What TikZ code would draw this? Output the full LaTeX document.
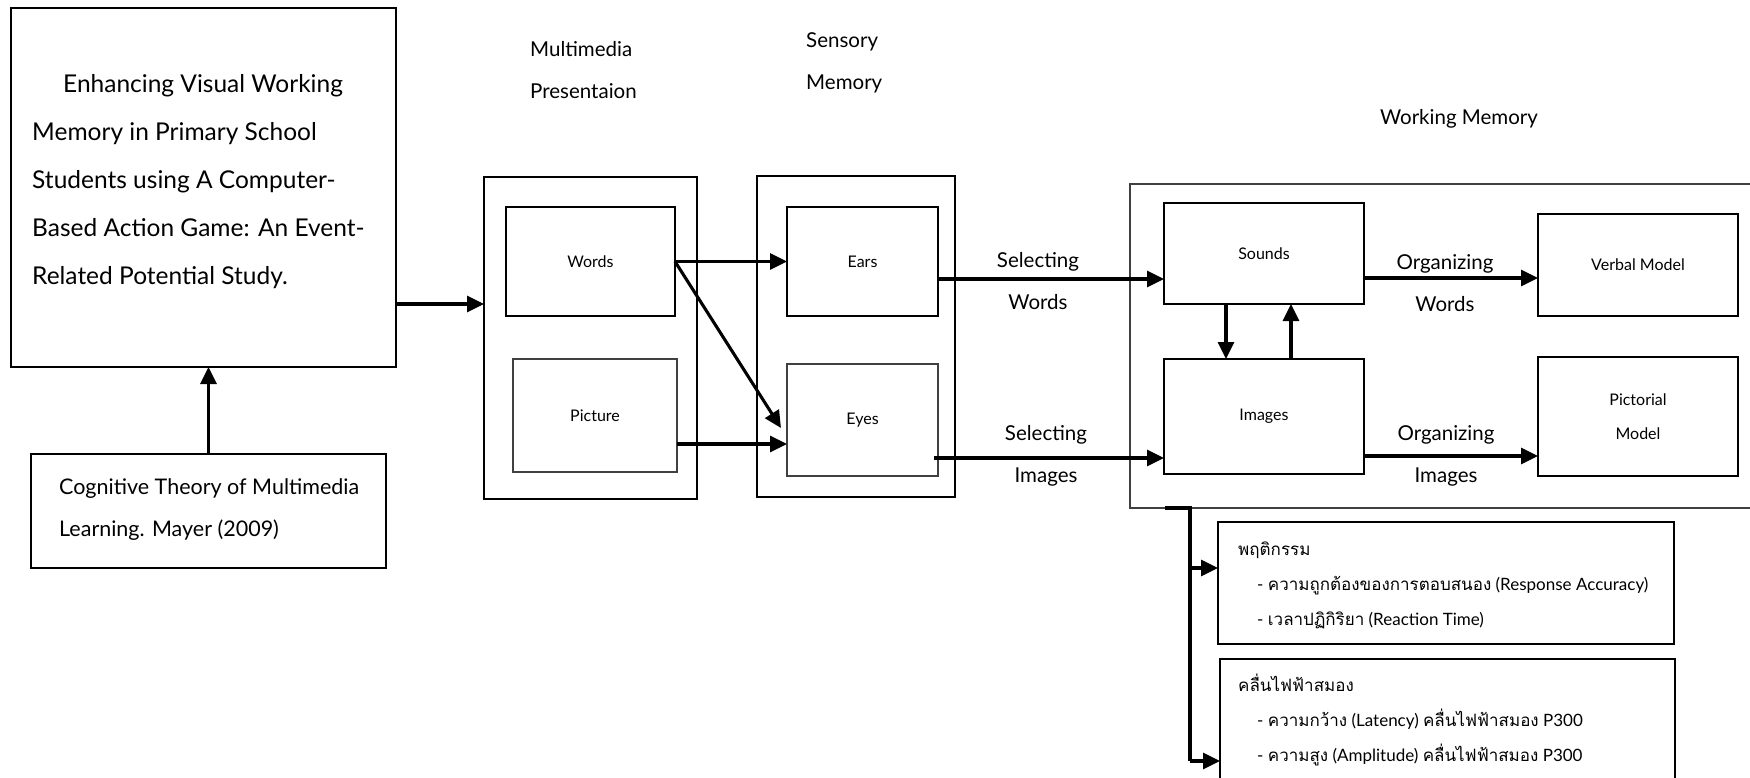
\documentclass[tikz,border=0pt]{standalone}
\usepackage{fontspec}
\setmainfont{Lato}
\newfontfamily\thaifont[Script=Thai]{Loma}
\usetikzlibrary{arrows.meta,calc}
\begin{document}
\begin{tikzpicture}[x=1pt,y=-1pt,
  box/.style={draw, rectangle, inner sep=0pt, outer sep=0pt},
  outerbox/.style={box, line width=2.8pt},
  innerbox/.style={box, line width=2pt},
  thinbox/.style={box, line width=1.4pt, draw=black!75},
  arr/.style={line width=3.1pt, -{Triangle[length=17pt,width=16pt]}},
  plain/.style={line width=3.1pt},
  lbl/.style={inner sep=0pt, align=left, font=\fontsize{20.5}{42}\selectfont},
  small/.style={font=\fontsize{16}{34}\selectfont, align=center},
  thai/.style={inner sep=0pt, align=left, font=\fontsize{17}{35}\selectfont}]
\clip (0,0) rectangle (1750,778);
\fill[white] (0,0) rectangle (1750,778);

% left column
\node[outerbox, minimum width=385pt, minimum height=359pt] (title) at (203.5,187.5) {};
\node[anchor=north west, inner sep=0pt, align=left, font=\fontsize{24.5}{48}\selectfont] (titletext) at (32,74)
  {\hspace*{31pt}Enhancing Visual Working\\Memory in Primary School\\Students using A Computer-\\Based Action Game: An Event-\\Related Potential Study.};
\node[outerbox, minimum width=355pt, minimum height=114pt] (cog) at (208.5,511) {};
\node[anchor=north west, inner sep=0pt, align=left, font=\fontsize{21.5}{42}\selectfont] (cogtext) at (59,478) {Cognitive Theory of Multimedia\\Learning. Mayer (2009)};

% headings
\node[anchor=north west, lbl] (mmlabel) at (530,41) {Multimedia\\Presentaion};
\node[anchor=north west, lbl] (smlabel) at (806,32) {Sensory\\Memory};
\node[lbl] (wmlabel) at (1459,119) {Working Memory};

% multimedia presentation
\node[outerbox, minimum width=213pt, minimum height=322pt] (mm) at (590.5,338) {};
\node[innerbox, minimum width=169pt, minimum height=109pt, small] (words) at (590.5,261.5) {Words};
\node[thinbox, minimum width=164pt, minimum height=113pt, small] (pic) at (595,415.5) {Picture};

% sensory memory
\node[outerbox, minimum width=198pt, minimum height=321pt] (sm) at (856,336.5) {};
\node[innerbox, minimum width=151pt, minimum height=109pt, small] (ears) at (862.5,261.5) {Ears};
\node[thinbox, minimum width=151pt, minimum height=112pt, small] (eyes) at (862.5,420) {Eyes};

% working memory
\node[thinbox, minimum width=622pt, minimum height=324pt] (wm) at (1441,346) {};
\node[innerbox, minimum width=200pt, minimum height=101pt, small] (sounds) at (1264,253.5) {Sounds};
\node[thinbox, draw=black, minimum width=200pt, minimum height=115pt, small] (images) at (1264,416.5) {Images};
\node[innerbox, minimum width=200pt, minimum height=102pt, small] (verbal) at (1638,265) {Verbal Model};
\node[innerbox, minimum width=200pt, minimum height=119pt, small] (pictorial) at (1638,416.5) {Pictorial\\Model};

% connector labels
\node[lbl, align=center] (selw) at (1038,281) {Selecting\\Words};
\node[lbl, align=center] (seli) at (1046,456) {Selecting\\Images};
\node[lbl, align=center] (orgw) at (1445,283) {Organizing\\Words};
\node[lbl, align=center] (orgi) at (1446,456) {Organizing\\Images};

% outcome boxes
\node[innerbox, minimum width=456pt, minimum height=122pt] (beh) at (1446,583) {};
\node[thai, anchor=north west] (behtext) at (1238,541.5)
  {{\thaifont พฤติกรรม}\\\hspace*{19pt}- {\thaifont ความถูกต้องของการตอบสนอง} (Response Accuracy)\\\hspace*{19pt}- {\thaifont เวลาปฏิกิริยา} (Reaction Time)};
\node[innerbox, minimum width=455pt, minimum height=124pt] (eeg) at (1447.5,721) {};
\node[thai, anchor=north west] (eegtext) at (1238,674)
  {{\thaifont คลื่นไฟฟ้าสมอง}\\\hspace*{19pt}- {\thaifont ความกว้าง} (Latency) {\thaifont คลื่นไฟฟ้าสมอง} P300\\\hspace*{19pt}- {\thaifont ความสูง} (Amplitude) {\thaifont คลื่นไฟฟ้าสมอง} P300};

% helper coordinates
\coordinate (y304) at (0,304);
\coordinate (y444) at (0,444);
\coordinate (y279) at (0,279);
\coordinate (y458) at (0,458);
\coordinate (y278) at (0,278);
\coordinate (y456) at (0,456);
\coordinate (y568) at (0,568);
\coordinate (y761) at (0,761);
\coordinate (xd) at (1226,0);
\coordinate (xu) at (1291,0);
\coordinate (xb0) at (1165,0);
\coordinate (xb) at (1190,0);

% connectors
\draw[arr] (cog.north) -- (cog.north |- title.south);
\draw[arr] (title.east |- y304) -- (mm.west |- y304);
\draw[arr] (words.east) -- (ears.west);
\draw[arr] (words.east) -- ([xshift=-6pt,yshift=-8pt]eyes.west);
\draw[arr] (pic.east |- y444) -- (eyes.west |- y444);
\draw[arr] (ears.east |- y279) -- (sounds.west |- y279);
\draw[arr] ([xshift=-4pt]eyes.east |- y458) -- (images.west |- y458);
\draw[arr] (sounds.south -| xd) -- (images.north -| xd);
\draw[arr] (images.north -| xu) -- (sounds.south -| xu);
\draw[arr] (sounds.east |- y278) -- (verbal.west |- y278);
\draw[arr] (images.east |- y456) -- (pictorial.west |- y456);
\draw[plain] (wm.south -| xb0) -- (wm.south -| xb) -- (xb |- y761);
\draw[arr] (xb |- y761) -- (eeg.west |- y761);
\draw[arr] (xb |- y568) -- (beh.west |- y568);
\end{tikzpicture}
\end{document}
